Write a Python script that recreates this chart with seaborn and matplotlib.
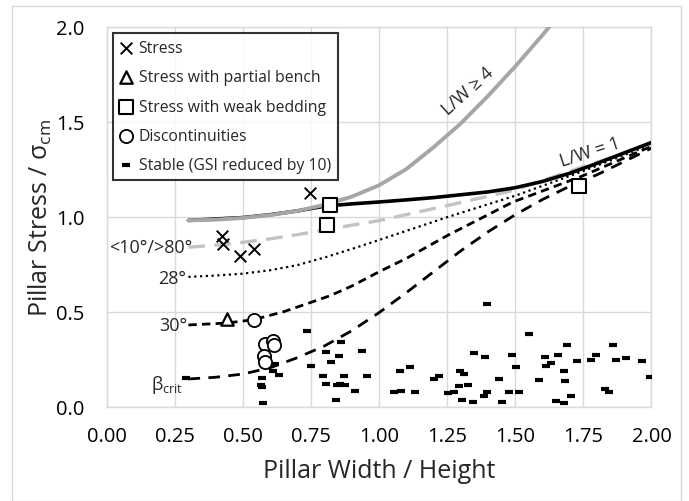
import matplotlib
matplotlib.use("Agg")
import matplotlib.pyplot as plt
import seaborn as sns
from matplotlib.patches import Rectangle

# ---------------- data ----------------
# curve L/W >= 4 (grey solid)
lw4_x = [0.30, 0.40, 0.50, 0.60, 0.70, 0.80, 0.90, 1.00, 1.10, 1.20, 1.30, 1.40, 1.50, 1.60, 1.70]
lw4_y = [0.98, 0.984, 0.993, 1.008, 1.03, 1.062, 1.105, 1.165, 1.25, 1.365, 1.49, 1.635, 1.79, 1.955, 2.13]
# curve L/W = 1 (black solid)
lw1_x = [0.30, 0.50, 0.60, 0.70, 0.80, 0.90, 1.00, 1.10, 1.20, 1.30, 1.40, 1.50, 1.60, 1.70, 1.80, 1.90, 2.00]
lw1_y = [0.98, 0.995, 1.01, 1.03, 1.055, 1.067, 1.077, 1.088, 1.10, 1.115, 1.13, 1.152, 1.185, 1.228, 1.28, 1.335, 1.39]
# <10 / >80 deg (grey dashed)
a10_x = [0.30, 0.45, 0.60, 0.70, 0.82, 0.90, 1.00, 1.25, 1.49, 1.69, 1.85, 2.00]
a10_y = [0.839, 0.856, 0.883, 0.905, 0.935, 0.955, 0.979, 1.058, 1.137, 1.234, 1.31, 1.385]
# 28 deg (dotted)
a28_x = [0.30, 0.40, 0.50, 0.60, 0.70, 0.80, 0.90, 1.00, 1.25, 1.50, 1.75, 2.00]
a28_y = [0.683, 0.69, 0.70, 0.718, 0.745, 0.785, 0.83, 0.877, 0.997, 1.11, 1.24, 1.38]
# 30 deg (dashed)
a30_x = [0.30, 0.44, 0.54, 0.65, 0.75, 0.82, 0.90, 1.00, 1.10, 1.25, 1.49, 1.74, 2.00]
a30_y = [0.43, 0.44, 0.458, 0.50, 0.549, 0.584, 0.635, 0.71, 0.78, 0.90, 1.076, 1.21, 1.37]
# beta crit (dashed)
bc_x = [0.30, 0.40, 0.50, 0.60, 0.70, 0.80, 0.90, 1.00, 1.10, 1.20, 1.30, 1.40, 1.50, 1.60, 1.70, 1.80, 1.90, 2.00]
bc_y = [0.146, 0.155, 0.172, 0.205, 0.258, 0.32, 0.40, 0.495, 0.60, 0.71, 0.82, 0.92, 1.01, 1.09, 1.16, 1.22, 1.29, 1.36]

stress_x = [0.422, 0.428, 0.49, 0.541, 0.747]
stress_y = [0.90, 0.856, 0.792, 0.83, 1.125]
bench_x = [0.441]
bench_y = [0.462]
weak_x = [0.82, 0.81, 1.735]
weak_y = [1.062, 0.956, 1.163]
disc_x = [0.539, 0.582, 0.612, 0.615, 0.578, 0.582]
disc_y = [0.458, 0.33, 0.345, 0.325, 0.268, 0.234]
stable_x = [0.29, 0.569, 0.566, 0.569, 0.573, 0.588, 0.618, 0.612, 0.634, 0.735, 0.75, 0.806, 0.824,
            0.853, 0.86, 0.937, 0.793, 0.873, 0.806, 0.845, 0.855, 0.875, 0.912, 0.84, 0.957,
            1.077, 1.112, 1.055, 1.08, 1.131, 1.20, 1.22, 1.254, 1.276, 1.298, 1.31, 1.295, 1.325,
            1.306, 1.343, 1.347, 1.39, 1.384, 1.396, 1.398, 1.439, 1.453, 1.488, 1.503, 1.478,
            1.515, 1.551, 1.586, 1.61, 1.614, 1.632, 1.657, 1.691, 1.678, 1.681, 1.648, 1.679,
            1.703, 1.725, 1.778, 1.796, 1.857, 1.87, 1.907, 1.965, 1.996, 1.83, 1.843]
stable_y = [0.15, 0.151, 0.114, 0.102, 0.019, 0.216, 0.225, 0.19, 0.168, 0.397, 0.216, 0.29, 0.234,
            0.268, 0.339, 0.291, 0.163, 0.163, 0.12, 0.114, 0.121, 0.114, 0.081, 0.037, 0.16,
            0.19, 0.209, 0.079, 0.083, 0.079, 0.146, 0.163, 0.072, 0.076, 0.186, 0.172, 0.111, 0.116,
            0.035, 0.023, 0.283, 0.262, 0.055, 0.076, 0.539, 0.146, 0.026, 0.271, 0.209, 0.079,
            0.079, 0.384, 0.139, 0.262, 0.213, 0.23, 0.271, 0.323, 0.19, 0.137, 0.032, 0.018,
            0.058, 0.239, 0.247, 0.271, 0.323, 0.247, 0.256, 0.242, 0.156, 0.091, 0.076]

x_ticks = [0.00, 0.25, 0.50, 0.75, 1.00, 1.25, 1.50, 1.75, 2.00]
y_ticks = [0.0, 0.5, 1.0, 1.5, 2.0]

# ---------------- style ----------------
sns.set_theme(style="whitegrid")
plt.rcParams["font.family"] = ["Open Sans", "DejaVu Sans"]
plt.rcParams["mathtext.fontset"] = "custom"
plt.rcParams["mathtext.rm"] = "Open Sans"
plt.rcParams["mathtext.it"] = "Open Sans:italic"

fig = plt.figure(figsize=(6.89, 5.02), dpi=100)
ax = fig.add_axes([0.1549, 0.1878, 0.7906, 0.7574])
fig.patches.append(Rectangle((12 / 689, 0.0), 669 / 689, 1 - 7 / 502, transform=fig.transFigure,
                             fill=False, edgecolor="#d9d9d9", linewidth=1))

GRAY = "#a6a6a6"
LGRAY = "#c3c3c3"

def curve(xs, ys, **kw):
    sns.lineplot(x=xs, y=ys, ax=ax, sort=False, legend=False, estimator=None, **kw)

curve(bc_x, bc_y, color="black", linewidth=2.0, linestyle=(0, (4.2, 3.0)), zorder=3)
curve(a30_x, a30_y, color="black", linewidth=2.0, linestyle=(0, (3.0, 1.9)), zorder=3)
curve(a28_x, a28_y, color="black", linewidth=1.6, linestyle=(0, (1.0, 1.6)), zorder=3)
curve(a10_x, a10_y, color=LGRAY, linewidth=2.4, linestyle=(0, (5.0, 2.8)), zorder=3)
curve(lw1_x, lw1_y, color="black", linewidth=2.6, zorder=4)
curve(lw4_x, lw4_y, color=GRAY, linewidth=2.8, zorder=4)

sns.scatterplot(x=stress_x, y=stress_y, ax=ax, marker="x", color="black", s=70,
                linewidth=1.4, label="Stress", zorder=6)
sns.scatterplot(x=bench_x, y=bench_y, ax=ax, marker="^", facecolor="white", edgecolor="black",
                s=80, linewidth=1.6, label="Stress with partial bench", zorder=6)
sns.scatterplot(x=weak_x, y=weak_y, ax=ax, marker="s", facecolor="white", edgecolor="black",
                s=95, linewidth=1.5, label="Stress with weak bedding", zorder=6)
sns.scatterplot(x=disc_x, y=disc_y, ax=ax, marker="o", facecolor="white", edgecolor="black",
                s=90, linewidth=1.3, label="Discontinuities", zorder=6)
sns.scatterplot(x=stable_x, y=stable_y, ax=ax, marker="_", color="black", s=30,
                linewidth=3.0, label="Stable (GSI reduced by 10)", zorder=5)

ax.set_xlim(0, 2.0)
ax.set_ylim(0, 2.0)
ax.set_xticks(x_ticks)
ax.set_xticklabels([f"{v:.2f}" for v in x_ticks])
ax.set_yticks(y_ticks)
ax.set_yticklabels([f"{v:.1f}" for v in y_ticks])
ax.tick_params(axis="both", labelsize=14.5, length=0, colors="#000000")
ax.tick_params(axis="x", pad=14)
ax.tick_params(axis="y", pad=16)
ax.grid(True, color="#d9d9d9", linewidth=1)
for sp in ax.spines.values():
    sp.set_color("#d9d9d9")
    sp.set_linewidth(1)

ax.set_xlabel("Pillar Width / Height", fontsize=18)
ax.set_ylabel("Pillar Stress / σ$_{\\mathrm{cm}}$", fontsize=18)
ax.xaxis.set_label_coords(0.5, -0.135)
ax.yaxis.set_label_coords(-0.097, 0.5)
ax.xaxis.label.set_va("top")

# curve annotations
ax.text(0.315, 0.84, "<10°/>80°", ha="right", va="center", fontsize=13)
ax.text(0.29, 0.675, "28°", ha="right", va="center", fontsize=13)
ax.text(0.295, 0.43, "30°", ha="right", va="center", fontsize=13)
ax.text(0.28, 0.12, "β$_{\\mathrm{crit}}$", ha="right", va="center", fontsize=13)
ax.text(1.325, 1.665, "L/W ≥ 4", ha="center", va="center", fontsize=13, rotation=42)
ax.text(1.775, 1.34, "L/W = 1", ha="center", va="center", fontsize=13, rotation=18)

leg = ax.legend(loc="upper left", bbox_to_anchor=(0.011, 0.983), borderaxespad=0,
                fontsize=11.3, frameon=True, fancybox=False, edgecolor="black",
                handlelength=0.8, handletextpad=0.4, labelspacing=0.85, borderpad=0.45)
leg.get_frame().set_linewidth(1.5)
leg.set_zorder(10)

fig.savefig("out.png", dpi=100)
